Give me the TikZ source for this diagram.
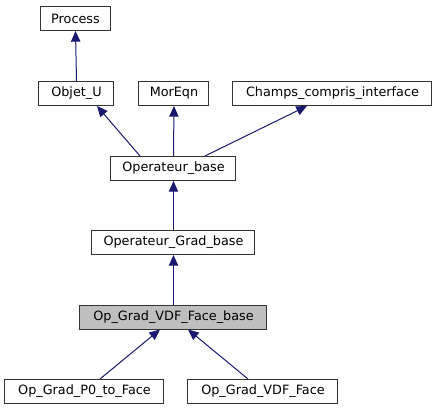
\documentclass[tikz,border=0pt]{standalone}
\usepackage{fontspec}
\setmainfont{DejaVu Sans}
\usetikzlibrary{arrows.meta}
\definecolor{edgecol}{HTML}{191970}
\definecolor{hl}{HTML}{BFBFBF}
\tikzset{
  cls/.style={draw=black!80, fill=white, line width=0.75pt, inner sep=0pt, minimum height=18pt, font=\fontsize{9.6pt}{11pt}\selectfont},
  inh/.style={draw=edgecol, line width=0.75pt, -{Triangle[length=8pt,width=7pt,fill=edgecol]}},
}
\begin{document}
\begin{tikzpicture}[x=0.75pt,y=-0.75pt]
\useasboundingbox (0,0) rectangle (437,411);
\node[cls,minimum width=70.25pt*0.75] (process) at (75.5,18.5) {Process};
\node[cls,minimum width=75pt*0.75] (objet) at (76.5,93.5) {Objet\_U};
\node[cls,minimum width=70pt*0.75] (moreqn) at (174,93.5) {MorEqn};
\node[cls,minimum width=199pt*0.75] (champs) at (332.5,93.5) {Champs\_compris\_interface};
\node[cls,minimum width=125pt*0.75] (opbase) at (173.5,168.5) {Operateur\_base};
\node[cls,minimum width=163pt*0.75] (opgrad) at (173.5,242.5) {Operateur\_Grad\_base};
\node[cls,fill=hl,minimum width=187pt*0.75] (vdfbase) at (173.5,317) {Op\_Grad\_VDF\_Face\_base};
\node[cls,minimum width=159pt*0.75] (p0) at (84.5,391.5) {Op\_Grad\_P0\_to\_Face};
\node[cls,minimum width=150pt*0.75] (vdf) at (263,391.5) {Op\_Grad\_VDF\_Face};
\path (opbase.north) ++(-33.5,0) coordinate (ob1);
\path (opbase.north) ++(31.5,0) coordinate (ob3);
\path (objet.south) ++(20.5,0) coordinate (oj);
\path (champs.south) ++(-25.5,0) coordinate (ch);
\path (vdfbase.south) ++(-13.5,0) coordinate (vb1);
\path (vdfbase.south) ++(14.5,0) coordinate (vb2);
\path (p0.north) ++(15.5,0) coordinate (p0t);
\path (vdf.north) ++(-15,0) coordinate (vdft);
\draw[inh] (objet.north) -- (process.south);
\draw[inh] (ob1) -- (oj);
\draw[inh] (opbase.north) -- (moreqn.south);
\draw[inh] (ob3) -- (ch);
\draw[inh] (opgrad.north) -- (opbase.south);
\draw[inh] (vdfbase.north) -- (opgrad.south);
\draw[inh] (p0t) -- (vb1);
\draw[inh] (vdft) -- (vb2);
\end{tikzpicture}
\end{document}
